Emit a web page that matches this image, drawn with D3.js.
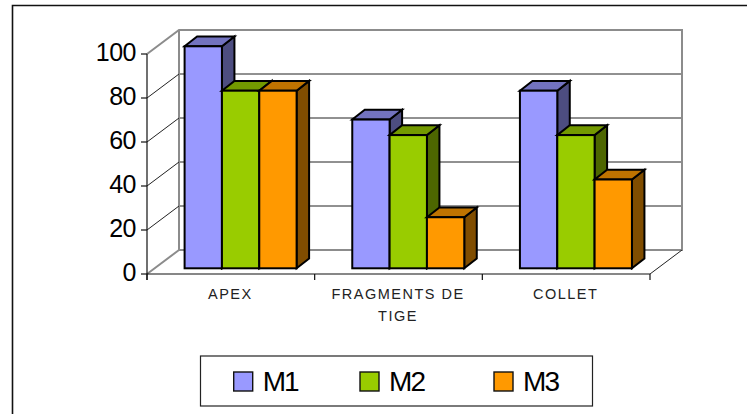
<!DOCTYPE html>
<html>
<head>
<meta charset="utf-8">
<script src="https://cdn.jsdelivr.net/npm/d3@7"></script>
<style>
html,body{margin:0;padding:0;background:#fff;overflow:hidden}
svg{display:block}
text{font-family:"Liberation Sans",Arial,sans-serif;fill:#000}
</style>
</head>
<body>
<svg id="chart" width="747" height="414"></svg>
<script>
const categories = ["APEX", "FRAGMENTS DE|TIGE", "COLLET"];
const seriesNames = ["M1", "M2", "M3"];
const m1Values = [100, 67, 80];
const m2Values = [80, 60, 60];
const m3Values = [80, 23, 40];
const yTicks = [0, 20, 40, 60, 80, 100];
const seriesValues = [m1Values, m2Values, m3Values];
const faceColors = ["#9999ff", "#99cc00", "#ff9900"];
const topColors = ["#7373bf", "#739900", "#bf7300"];
const sideColors = ["#4d4d80", "#4d6600", "#804d00"];

const svg = d3.select("#chart");

// Front plane of the oblique box and the shift to the back wall
const plotLeft = 147, plotRight = 650, plotBase = 274, plotTop = 54;
const wallDx = 32, wallDy = -24;
const barDx = 12.5, barDy = -9.8;

const x = d3.scaleBand().domain(d3.range(categories.length)).range([plotLeft, plotRight]);
const inner = d3.scaleBand().domain(d3.range(seriesNames.length)).range([0, 112]);
const y = d3.scaleLinear().domain([0, 100]).range([plotBase, plotTop]);
const barY = d3.scaleLinear().domain([0, 100]).range([268.3, 46.3]);

// Outer frame: only the top and left edges fall inside the page
svg.append("path").attr("d", "M12.5,414V5.5H747")
  .attr("fill", "none").attr("stroke", "#111").attr("stroke-width", 1.6);

// Back wall and floor
const wall = svg.append("g");
wall.selectAll("line.grid").data(yTicks.slice(1, -1)).join("line")
  .attr("x1", plotLeft + wallDx).attr("x2", plotRight + wallDx)
  .attr("y1", d => y(d) + wallDy).attr("y2", d => y(d) + wallDy)
  .attr("stroke", "#222").attr("stroke-width", 1);
wall.append("path")
  .attr("d", `M${plotLeft},${plotTop}L${plotLeft + wallDx},${plotTop + wallDy}H${plotRight + wallDx}V${plotBase + wallDy}H${plotLeft + wallDx}V${plotTop + wallDy}M${plotLeft},${plotBase}L${plotLeft + wallDx},${plotBase + wallDy}`)
  .attr("fill", "none").attr("stroke", "#8c8c8c").attr("stroke-width", 2);
wall.selectAll("line.side").data(yTicks.slice(1, -1)).join("line")
  .attr("x1", plotLeft).attr("x2", plotLeft + wallDx)
  .attr("y1", d => y(d)).attr("y2", d => y(d) + wallDy)
  .attr("stroke", "#222").attr("stroke-width", 1);
wall.append("line")
  .attr("x1", plotRight).attr("y1", plotBase).attr("x2", plotRight + wallDx).attr("y2", plotBase + wallDy)
  .attr("stroke", "#222").attr("stroke-width", 1);

// Axes on the front plane
const tickXs = d3.range(categories.length + 1).map(i => plotLeft + i * x.bandwidth());
const axes = svg.append("g").attr("stroke", "#111").attr("stroke-width", 1.2);
axes.append("line").attr("x1", plotLeft).attr("x2", plotLeft).attr("y1", plotTop).attr("y2", plotBase + 6);
axes.append("line").attr("x1", plotLeft).attr("x2", plotRight).attr("y1", plotBase).attr("y2", plotBase);
axes.selectAll("line.ty").data(yTicks).join("line")
  .attr("x1", plotLeft - 6).attr("x2", plotLeft)
  .attr("y1", d => y(d)).attr("y2", d => y(d));
axes.selectAll("line.tx").data(tickXs).join("line")
  .attr("x1", d => d).attr("x2", d => d)
  .attr("y1", plotBase).attr("y2", plotBase + 6);

// Y tick labels
svg.append("g").selectAll("text").data(yTicks).join("text")
  .attr("x", 136).attr("y", d => y(d) + 7)
  .attr("text-anchor", "end").attr("font-size", 25).attr("letter-spacing", -0.5)
  .text(d => d);

// Category labels, with a manual line break
const catLabels = svg.append("g").selectAll("text").data(categories).join("text")
  .attr("text-anchor", "middle").attr("font-size", 14.5).attr("letter-spacing", 1.5)
  .style("fill", "#222");
catLabels.each(function (c, i) {
  const cx = x(i) + x.bandwidth() / 2 - 0.5;
  d3.select(this).selectAll("tspan").data(c.split("|")).join("tspan")
    .attr("x", cx).attr("y", (d, j) => 299 + j * 21.5).text(d => d);
});

// Bars: side and top faces first, front face last, series drawn in order
const bars = svg.append("g").attr("stroke", "#000").attr("stroke-width", 2).attr("stroke-linejoin", "miter");
categories.forEach((c, ci) => {
  seriesNames.forEach((s, si) => {
    const v = seriesValues[si][ci];
    const x0 = x(ci) + 37.6 + inner(si), x1 = x0 + inner.bandwidth();
    const y0 = barY(v), y1 = barY(0);
    const g = bars.append("g");
    g.append("path")
      .attr("d", `M${x1},${y0}L${x1 + barDx},${y0 + barDy}V${y1 + barDy}L${x1},${y1}Z`)
      .attr("fill", sideColors[si]);
    g.append("path")
      .attr("d", `M${x0},${y0}L${x0 + barDx},${y0 + barDy}H${x1 + barDx}L${x1},${y0}Z`)
      .attr("fill", topColors[si]);
    g.append("rect")
      .attr("x", x0).attr("y", y0).attr("width", x1 - x0).attr("height", y1 - y0)
      .attr("fill", faceColors[si]);
  });
});

// Legend
const legend = svg.append("g");
legend.append("rect").attr("x", 200.5).attr("y", 356).attr("width", 392).attr("height", 50)
  .attr("fill", "#fff").attr("stroke", "#222").attr("stroke-width", 1.2);
const legendX = [233.7, 360, 494];
const items = legend.selectAll("g").data(seriesNames).join("g");
items.append("rect")
  .attr("x", (d, i) => legendX[i]).attr("y", 372).attr("width", 19).attr("height", 19)
  .attr("fill", (d, i) => faceColors[i]).attr("stroke", "#111").attr("stroke-width", 1.4);
items.append("text")
  .attr("x", (d, i) => legendX[i] + 29).attr("y", 390.5)
  .attr("font-size", 28).attr("letter-spacing", -1.9).text(d => d);
</script>
</body>
</html>
